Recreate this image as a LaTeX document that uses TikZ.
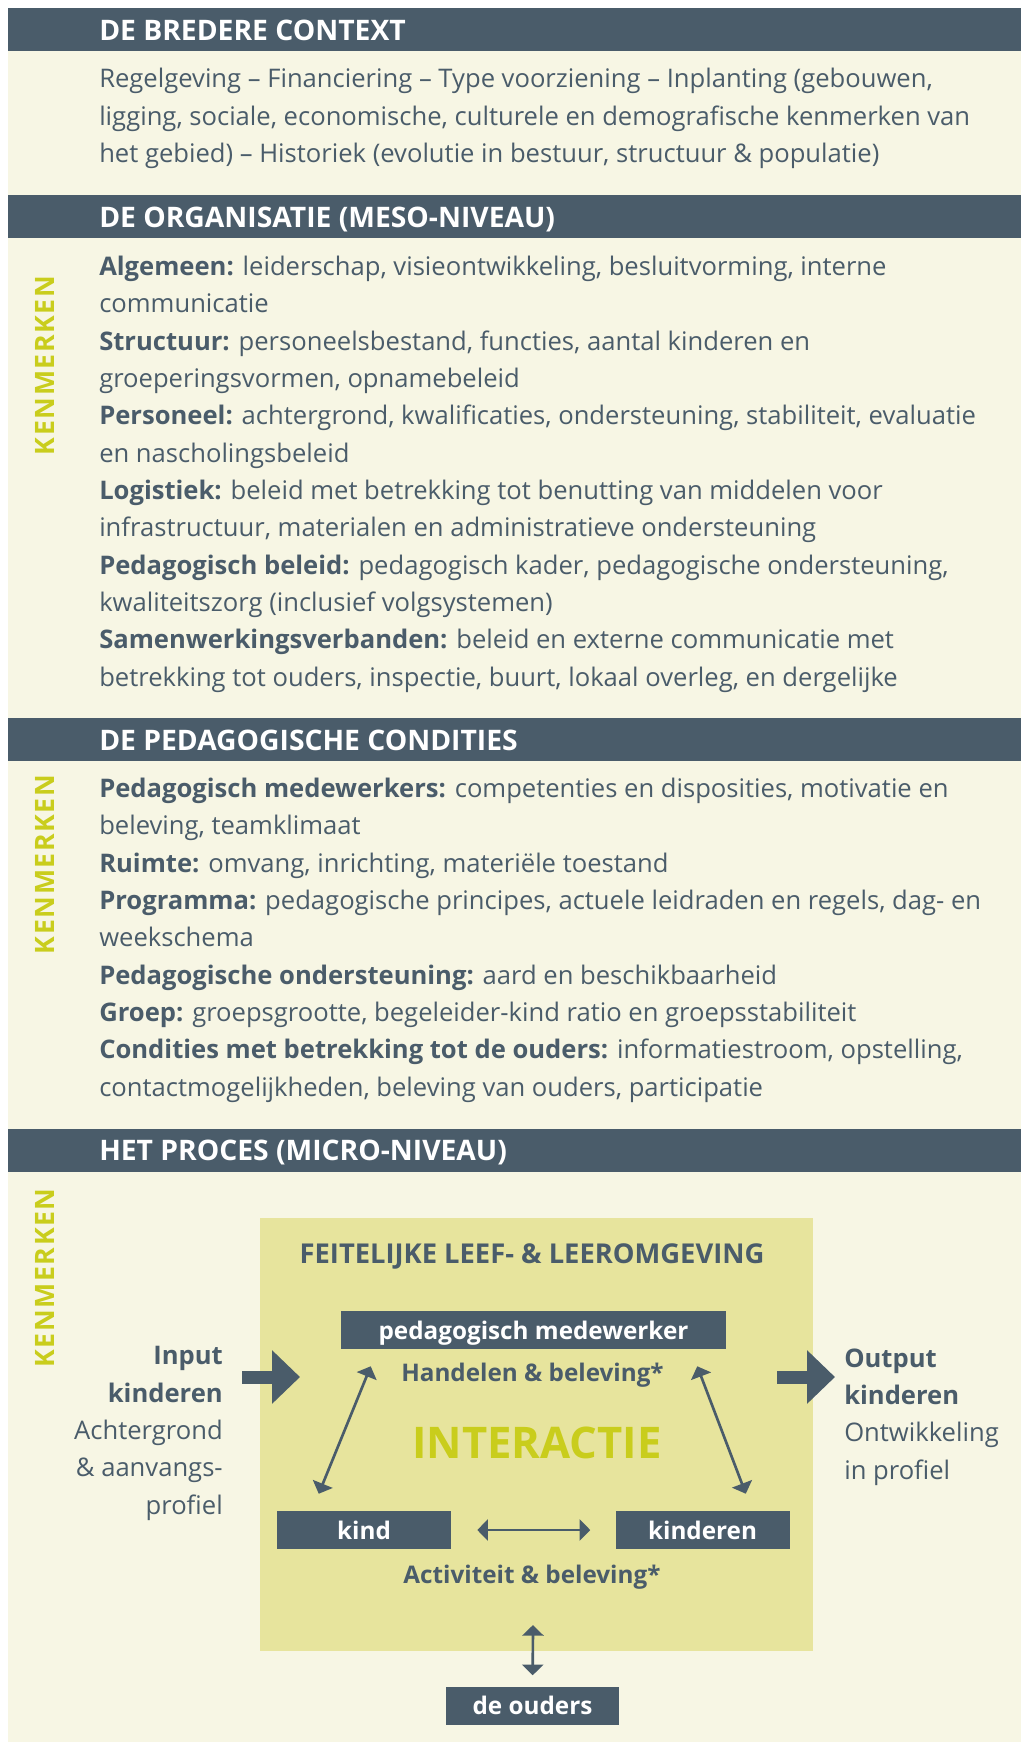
\documentclass[tikz,border=0pt]{standalone}
\usepackage{fontspec}
\setmainfont{Open Sans}
\usetikzlibrary{positioning,arrows.meta,calc}
\definecolor{leisteen}{HTML}{4A5C6A}
\definecolor{creme}{HTML}{F7F6E4}
\definecolor{geelvlak}{HTML}{E7E49D}
\definecolor{limoen}{HTML}{C9CD1C}
\tikzset{kop/.style = {anchor=base west, inner sep=0pt, text=white, font=\fontsize{21.2}{24}\selectfont\bfseries}}
\tikzset{tekst/.style = {anchor=base west, align=left, inner sep=0pt, text=leisteen, font=\fontsize{19.2}{28}\selectfont}}
\tikzset{kenmerk/.style = {rotate=90, inner sep=0pt, text=limoen, font=\fontsize{20}{20}\selectfont\bfseries\addfontfeature{LetterSpace=6}}}
\tikzset{blok/.style = {fill=leisteen, text=white, inner sep=0pt, minimum height=28.5pt, text height=14pt, text depth=0pt, font=\fontsize{18.2}{20}\selectfont\bfseries}}
\tikzset{label/.style = {anchor=base, inner sep=0pt, text=leisteen, font=\fontsize{18.2}{20}\selectfont\bfseries}}
\tikzset{wissel/.style = {<->, line width=2pt, leisteen, >={Triangle[length=8pt, width=15.75pt]}}}
\tikzset{blokpijl/.style = {line width=9.75pt, leisteen, -{Triangle[length=21pt, width=39pt]}}}

\begin{document}
\begin{tikzpicture}[x=0.75pt, y=-0.75pt]
  \useasboundingbox (0,0) rectangle (1021,1742);
  \fill[creme] (8,8) rectangle (1021,1742);

  % koppen
  \fill[leisteen] (8,8) rectangle (1021,51);
  \fill[leisteen] (8,195) rectangle (1021,238);
  \fill[leisteen] (8,718) rectangle (1021,761);
  \fill[leisteen] (8,1129) rectangle (1021,1172);
  \node[kop] (kopcontext) at (99,40) {DE BREDERE CONTEXT};
  \node[kop] (koporg) at (99,227) {DE ORGANISATIE (MESO-NIVEAU)};
  \node[kop] (kopcond) at (99,750) {DE PEDAGOGISCHE CONDITIES};
  \node[kop] (kopproces) at (99,1160) {HET PROCES (MICRO-NIVEAU)};

  % teksten (anker = basislijn van de laatste regel)
  \node[tekst] (context) at (99,162.5) {Regelgeving – Financiering – Type voorziening – Inplanting (gebouwen,\\
    ligging, sociale, economische, culturele en demografische kenmerken van\\
    het gebied) – Historiek (evolutie in bestuur, structuur \& populatie)};
  \node[tekst] (org) at (99,686) {\textbf{Algemeen:} leiderschap, visieontwikkeling, besluitvorming, interne\\
    communicatie\\
    \textbf{Structuur:} personeelsbestand, functies, aantal kinderen en\\
    groeperingsvormen, opnamebeleid\\
    \textbf{Personeel:} achtergrond, kwalificaties, ondersteuning, stabiliteit, evaluatie\\
    en nascholingsbeleid\\
    \textbf{Logistiek:} beleid met betrekking tot benutting van middelen voor\\
    infrastructuur, materialen en administratieve ondersteuning\\
    \textbf{Pedagogisch beleid:} pedagogisch kader, pedagogische ondersteuning,\\
    kwaliteitszorg (inclusief volgsystemen)\\
    \textbf{Samenwerkingsverbanden:} beleid en externe communicatie met\\
    betrekking tot ouders, inspectie, buurt, lokaal overleg, en dergelijke};
  \node[tekst] (cond) at (99,1096) {\textbf{Pedagogisch medewerkers:} competenties en disposities, motivatie en\\
    beleving, teamklimaat\\
    \textbf{Ruimte:} omvang, inrichting, materiële toestand\\
    \textbf{Programma:} pedagogische principes, actuele leidraden en regels, dag- en\\
    weekschema\\
    \textbf{Pedagogische ondersteuning:} aard en beschikbaarheid\\
    \textbf{Groep:} groepsgrootte, begeleider-kind ratio en groepsstabiliteit\\
    \textbf{Condities met betrekking tot de ouders:} informatiestroom, opstelling,\\
    contactmogelijkheden, beleving van ouders, participatie};

  \node[kenmerk] (kenorg) at (44.5,365.5) {KENMERKEN};
  \node[kenmerk] (kencond) at (44.5,864.5) {KENMERKEN};
  \node[kenmerk] (kenproces) at (44.5,1278) {KENMERKEN};

  % proces
  \node[fill=geelvlak, minimum width=414.75pt, minimum height=324.75pt, inner sep=0pt] (omgeving) at (536.5,1434.5) {};
  \node[label, font=\fontsize{20.5}{22}\selectfont\bfseries] (feitelijk) at (532,1263) {FEITELIJKE LEEF- \& LEEROMGEVING};
  \node[blok, minimum width=288.75pt] (pm) at (533.5,1330) {pedagogisch medewerker};
  \node[label] (handelen) at (532.5,1381) {Handelen \& beleving*};
  \node[label, text=limoen, font=\fontsize{32.7}{34}\selectfont\bfseries] (interactie) at (537,1458) {INTERACTIE};
  \node[blok, minimum width=130.5pt] (kind) at (364,1530) {kind};
  \node[blok, minimum width=130.5pt, right=123pt of kind] (kinderen) {kinderen};
  \node[label] (activiteit) at (532,1583) {Activiteit \& beleving*};
  \node[blok, minimum width=129.75pt] (ouders) at (532.5,1705.5) {de ouders};

  \node[tekst, anchor=base east, align=right] (input) at (223,1514) {\textbf{Input}\\ \textbf{kinderen}\\ Achtergrond\\ \& aanvangs-\\ profiel};
  \node[tekst] (output) at (844,1479) {\textbf{Output}\\ \textbf{kinderen}\\ Ontwikkeling\\ in profiel};

  \coordinate (inbegin) at (242,1377);
  \coordinate (ineinde) at (300,1377);
  \coordinate (uitbegin) at (777,1377);
  \coordinate (uiteinde) at (835,1377);
  \coordinate (ouderpijl) at (533,1625);

  \draw[blokpijl] (inbegin) -- (ineinde);
  \draw[blokpijl] (uitbegin) -- (uiteinde);

  \draw[wissel] ($(pm.south west)+(30,17)$) -- ($(kind.north west)+(42,-17)$);
  \draw[wissel] ($(pm.south east)+(-29,17)$) -- ($(kinderen.north east)+(-44,-17)$);
  \draw[wissel, shorten <=19.5pt, shorten >=18.75pt] (kind) -- (kinderen);
  \draw[wissel, shorten >=8.25pt] (ouderpijl) -- (ouders);
\end{tikzpicture}
\end{document}
